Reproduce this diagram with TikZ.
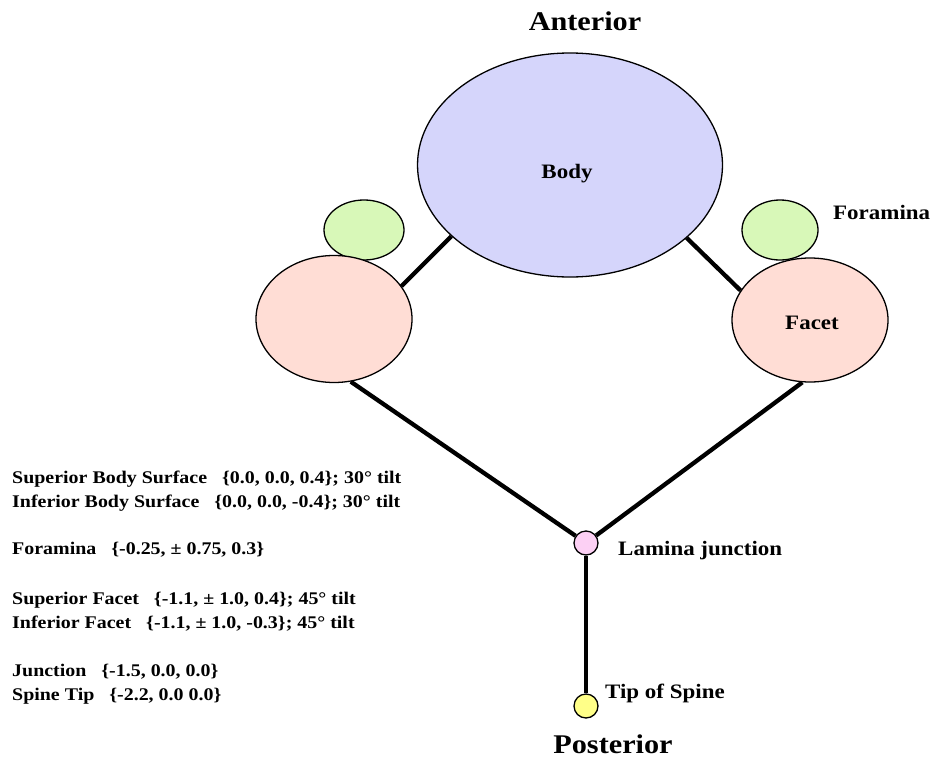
\documentclass[tikz,border=0pt]{standalone}
\usepackage{fontspec}
\setmainfont{Liberation Serif}
\newfontfamily\widefont[FakeStretch=1.12]{Liberation Serif}
\usetikzlibrary{shapes.geometric,backgrounds}
\definecolor{bodyc}{HTML}{D5D5FB}
\definecolor{forc}{HTML}{D8F8B8}
\definecolor{facc}{HTML}{FFDDD5}
\definecolor{junc}{HTML}{FCD0F4}
\definecolor{tipc}{HTML}{FFFF88}
\tikzset{
  blob/.style={ellipse, draw=black, line width=1.3pt, inner sep=0pt},
  dot/.style={circle, draw=black, line width=1.3pt, minimum size=24pt, inner sep=0pt},
  link/.style={line width=4.3pt},
  lbl/.style={font=\widefont\bfseries\fontsize{20.5}{24}\selectfont, inner sep=0pt, anchor=base west},
  big/.style={font=\widefont\bfseries\fontsize{27}{30}\selectfont, inner sep=0pt, anchor=base},
  info/.style={font=\widefont\bfseries\fontsize{17.8}{20}\selectfont, anchor=base west, inner sep=0pt}
}
\begin{document}
\begin{tikzpicture}[x=1pt,y=-1pt]
\useasboundingbox (0,0) rectangle (933,757);
\node[blob, fill=forc, minimum width=80pt, minimum height=60pt] (forL) at (364,230) {};
\node[blob, fill=forc, minimum width=76pt, minimum height=60pt] (forR) at (780,230) {};
\node[blob, fill=facc, minimum width=156pt, minimum height=127pt] (facL) at (334,319) {};
\node[blob, fill=facc, minimum width=156pt, minimum height=124pt] (facR) at (810,320) {};
\node[blob, fill=bodyc, minimum width=305pt, minimum height=224pt] (body) at (570,165) {};
\node[dot, fill=junc] (jct) at (586,543) {};
\node[dot, fill=tipc] (tip) at (586,706) {};
\begin{scope}[on background layer]
\draw[link] (body.211) -- (facL.26);
\draw[link] (body.-32) -- (facR.157);
\draw[link] (facL.-75) -- (jct);
\draw[link] (facR.-97) -- (jct);
\draw[link] (jct) -- (tip);
\end{scope}
% labels
\node[big] (ant) at (585,31) {Anterior};
\node[big] (post) at (613,753) {Posterior};
\node[big, font=\widefont\bfseries\fontsize{20.5}{24}\selectfont] (bodylbl) at (567,178) {Body};
\node[big, font=\widefont\bfseries\fontsize{20.5}{24}\selectfont] (faclbl) at (812,329) {Facet};
\node[lbl] (forlbl) at (833,219) {Foramina};
\node[lbl] (jlbl) at (618,555) {Lamina junction};
\node[lbl] (tlbl) at (605,698) {Tip of Spine};
% info text
\node[info] (i1) at (12,483) {Superior Body Surface \ \ \{0.0, 0.0, 0.4\}; 30° tilt};
\node[info] (i2) at (12,507) {Inferior Body Surface \ \ \{0.0, 0.0, -0.4\}; 30° tilt};
\node[info] (i3) at (12,554) {Foramina \ \ \{-0.25, ± 0.75, 0.3\}};
\node[info] (i4) at (12,604) {Superior Facet \ \ \{-1.1, ± 1.0, 0.4\}; 45° tilt};
\node[info] (i5) at (12,628) {Inferior Facet \ \ \{-1.1, ± 1.0, -0.3\}; 45° tilt};
\node[info] (i6) at (12,676) {Junction \ \ \{-1.5, 0.0, 0.0\}};
\node[info] (i7) at (12,700) {Spine Tip \ \ \{-2.2, 0.0 0.0\}};
\end{tikzpicture}
\end{document}
